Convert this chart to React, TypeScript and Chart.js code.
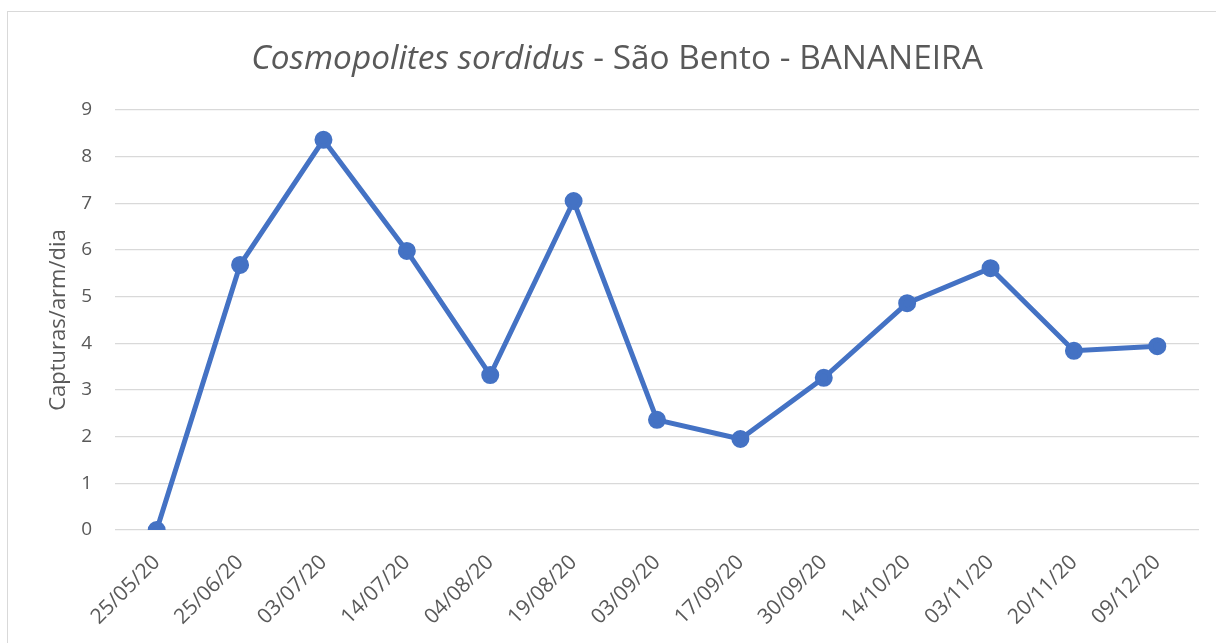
import React, { useEffect, useRef } from "react";
import { Chart, registerables } from "chart.js";

Chart.register(...registerables);

const categories = ["25/05/20", "25/06/20", "03/07/20", "14/07/20", "04/08/20", "19/08/20", "03/09/20", "17/09/20", "30/09/20", "14/10/20", "03/11/20", "20/11/20", "09/12/20"];
const capturas = [0, 5.68, 8.36, 5.98, 3.32, 7.05, 2.36, 1.95, 3.26, 4.86, 5.61, 3.84, 3.94];
const yTicks = [0, 1, 2, 3, 4, 5, 6, 7, 8, 9];
const titleItalic = "Cosmopolites sordidus";
const titleRest = " - São Bento - BANANEIRA";
const yTitle = "Capturas/arm/dia";

const FONT = "'Open Sans', sans-serif";
const TEXT = "#595959";
const BLUE = "#4472C4";

const titlePlugin = {
  id: "mixedTitle",
  afterDraw(chart: any) {
    const ctx = chart.ctx;
    ctx.save();
    const size = 33.4;
    const fItalic = `italic 400 ${size}px ${FONT}`;
    const fNormal = `400 ${size}px ${FONT}`;
    ctx.font = fItalic;
    const w1 = ctx.measureText(titleItalic).width;
    ctx.font = fNormal;
    const w2 = ctx.measureText(titleRest).width;
    const cx = 617;
    let x = cx - (w1 + w2) / 2;
    const y = 69;
    ctx.fillStyle = TEXT;
    ctx.textBaseline = "alphabetic";
    ctx.textAlign = "left";
    ctx.font = fItalic;
    ctx.fillText(titleItalic, x, y);
    ctx.font = fNormal;
    ctx.fillText(titleRest, x + w1, y);
    ctx.restore();
  },
};

export default function App() {
  const ref = useRef<HTMLCanvasElement>(null);
  useEffect(() => {
    document.body.style.margin = "0";
    const chart = new Chart(ref.current!, {
      type: "line",
      data: {
        labels: categories,
        datasets: [
          {
            data: capturas,
            borderColor: BLUE,
            backgroundColor: BLUE,
            borderWidth: 5,
            pointRadius: 6.5,
            pointHoverRadius: 6.5,
            pointBackgroundColor: BLUE,
            pointBorderColor: BLUE,
            tension: 0,
          },
        ],
      },
      options: {
        animation: false,
        responsive: false,
        maintainAspectRatio: false,
        layout: { padding: { top: 110, right: 17, left: 0, bottom: 0 } },
        plugins: { legend: { display: false }, title: { display: false }, tooltip: { enabled: false } },
        scales: {
          x: {
            offset: true,
            grid: { display: false, drawTicks: false },
            border: { display: false },
            ticks: {
              color: TEXT,
              font: { family: FONT, size: 21 },
              maxRotation: 45,
              minRotation: 45,
              padding: 20,
              autoSkip: false,
            },
            afterFit(scale: any) {
              scale.height = 113;
            },
          },
          y: {
            min: 0,
            max: 9,
            afterBuildTicks(scale: any) {
              scale.ticks = yTicks.map((v) => ({ value: v }));
            },
            grid: { color: "#d9d9d9", lineWidth: 1.3, drawTicks: false },
            border: { display: false },
            ticks: { color: TEXT, font: { family: FONT, size: 19 }, padding: 23 },
            title: { display: true, text: yTitle, color: TEXT, font: { family: FONT, size: 22 }, padding: { top: 0, bottom: 0 } },
            afterFit(scale: any) {
              scale.width = 115;
            },
          },
        },
      },
      plugins: [
        titlePlugin,
        {
          id: "yTitleShift",
          beforeDraw(chart: any) {
            const y = chart.scales.y;
            if (y) {
              y.left = 46;
            }
          },
        },
      ],
    });
    return () => chart.destroy();
  }, []);
  return (
    <div style={{ position: "relative", width: 1216, height: 643, overflow: "hidden", background: "#fff" }}>
      <canvas ref={ref} width={1216} height={643} style={{ position: "absolute", left: 0, top: 0 }} />
      <div style={{ position: "absolute", left: 7, top: 11, width: 1300, height: 700, border: "1.5px solid #d9d9d9", pointerEvents: "none" }} />
    </div>
  );
}
